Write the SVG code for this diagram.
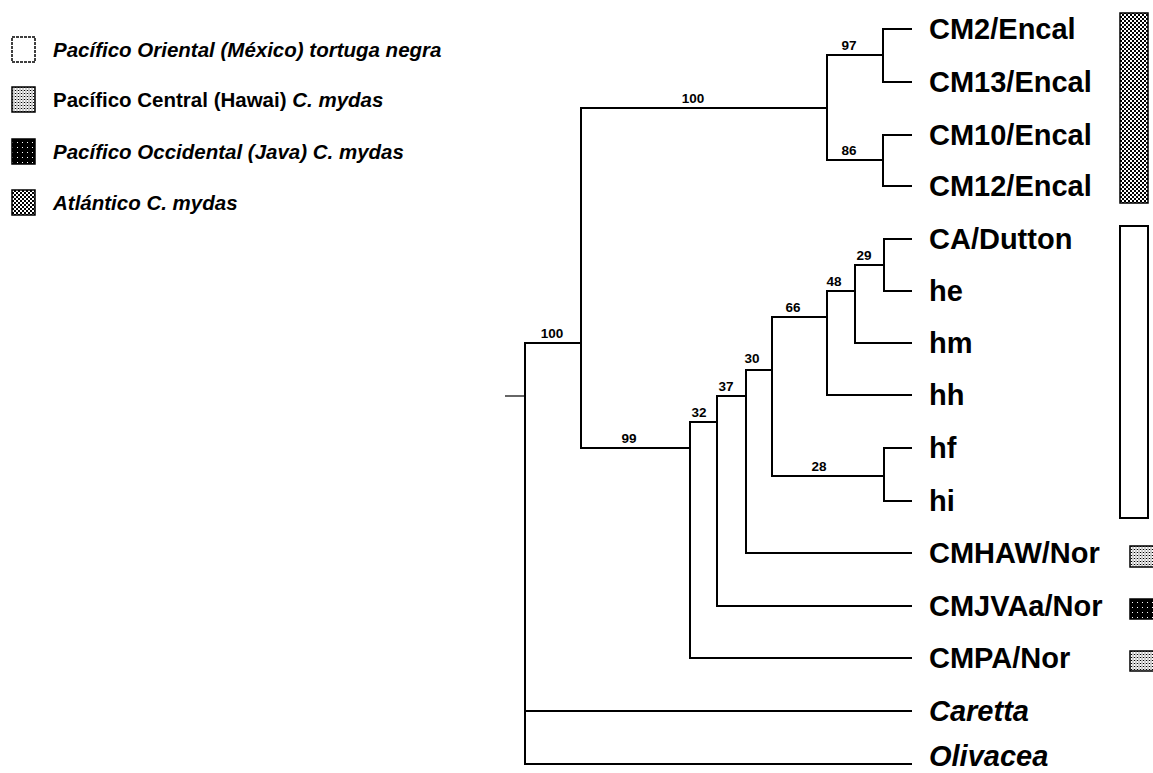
<svg xmlns="http://www.w3.org/2000/svg" width="1153" height="773" viewBox="0 0 1153 773">
<style>
.br{fill:none;stroke:#000;stroke-width:2;stroke-linejoin:miter}
.thin{fill:none;stroke:#000;stroke-width:1.2}
.leaf{font-family:"Liberation Sans",Arial,sans-serif;font-weight:bold;font-size:29px;fill:#000}
.it{font-style:italic}
.sup{font-family:"Liberation Sans",Arial,sans-serif;font-weight:bold;font-size:13.5px;fill:#000;text-anchor:middle}
.leg{font-family:"Liberation Sans",Arial,sans-serif;font-weight:bold;font-size:20.5px;fill:#000}
.bx{stroke:#000;stroke-width:1.5}
</style>
<defs>
<pattern id="checker" width="4" height="4" patternUnits="userSpaceOnUse">
<rect width="4" height="4" fill="#fff"/>
<rect width="2" height="2" fill="#000"/>
<rect x="2" y="2" width="2" height="2" fill="#000"/>
</pattern>
<pattern id="stipple" width="3" height="3" patternUnits="userSpaceOnUse">
<rect width="3" height="3" fill="#fff"/>
<rect width="1" height="1" fill="#000"/>
<rect x="1.5" y="1.5" width="1" height="1" fill="#333"/>
<rect x="1.5" y="0" width="1" height="1" fill="#888"/>
</pattern>
<pattern id="dark" width="5" height="5" patternUnits="userSpaceOnUse">
<rect width="5" height="5" fill="#000"/>
<rect x="2" y="2" width="1" height="1" fill="#fff"/>
</pattern>
</defs>
<rect width="1153" height="773" fill="#fff"/>

<g id="legend">
<g id="leg-oriental">
<rect x="12" y="37" width="23" height="25" fill="#fff" stroke="#000" stroke-width="1.5" stroke-dasharray="3 1"/>
<text class="leg it" x="53" y="57">Pacífico Oriental (México) tortuga negra</text>
</g>
<g id="leg-central">
<rect x="12" y="87" width="23" height="25" fill="url(#stipple)" class="bx"/>
<text class="leg" x="53" y="107">Pacífico Central (Hawai) <tspan class="it">C. mydas</tspan></text>
</g>
<g id="leg-occidental">
<rect x="12" y="139" width="23" height="25" fill="url(#dark)" class="bx"/>
<text class="leg it" x="53" y="159">Pacífico Occidental (Java) C. mydas</text>
</g>
<g id="leg-atlantico">
<rect x="12" y="190" width="23" height="25" fill="url(#checker)" class="bx"/>
<text class="leg it" x="53" y="210">Atlántico C. mydas</text>
</g>
</g>

<g id="connectors">
<path class="br" d="M827 108 H581 V448 H690"/>
<path class="br" d="M883 55 H827 V160 H883"/>
<path class="br" d="M912 29 H883 V82 H912"/>
<path class="br" d="M912 135 H883 V186 H912"/>
<path class="br" d="M884 265 H855 V343 H912"/>
<path class="br" d="M912 239 H884 V291 H912"/>
<path class="br" d="M855 291 H827 V395 H912"/>
<path class="br" d="M827 317 H772 V476 H884"/>
<path class="br" d="M912 448 H884 V501 H912"/>
<path class="br" d="M772 370 H746 V553 H912"/>
<path class="br" d="M746 396 H717 V606 H912"/>
<path class="br" d="M717 422 H690 V658 H912"/>
<path class="br" d="M581 343 H525 V764 H912"/>
<path class="br" d="M525 711 H912"/>
<path class="thin" d="M505 396 H525"/>
</g>

<g id="supports">
<text class="sup" x="693" y="103">100</text>
<text class="sup" x="849" y="50">97</text>
<text class="sup" x="849" y="155">86</text>
<text class="sup" x="864" y="260">29</text>
<text class="sup" x="834" y="286">48</text>
<text class="sup" x="793" y="312">66</text>
<text class="sup" x="752" y="363">30</text>
<text class="sup" x="726" y="391">37</text>
<text class="sup" x="699" y="417">32</text>
<text class="sup" x="819" y="471">28</text>
<text class="sup" x="629" y="443">99</text>
<text class="sup" x="552" y="338">100</text>
</g>

<g id="n-CM2"><text class="leaf" x="929" y="39">CM2/Encal</text></g>
<g id="n-CM13"><text class="leaf" x="929" y="92">CM13/Encal</text></g>
<g id="n-CM10"><text class="leaf" x="929" y="145">CM10/Encal</text></g>
<g id="n-CM12"><text class="leaf" x="929" y="196">CM12/Encal</text></g>
<g id="n-CA"><text class="leaf" x="929" y="249">CA/Dutton</text></g>
<g id="n-he"><text class="leaf" x="929" y="301">he</text></g>
<g id="n-hm"><text class="leaf" x="929" y="353">hm</text></g>
<g id="n-hh"><text class="leaf" x="929" y="405">hh</text></g>
<g id="n-hf"><text class="leaf" x="929" y="458">hf</text></g>
<g id="n-hi"><text class="leaf" x="929" y="511">hi</text></g>
<g id="n-CMHAW"><text class="leaf" x="929" y="563">CMHAW/Nor</text>
<rect x="1130" y="546" width="26" height="21" fill="url(#stipple)" class="bx"/></g>
<g id="n-CMJVAa"><text class="leaf" x="929" y="616">CMJVAa/Nor</text>
<rect x="1130" y="599" width="26" height="20" fill="url(#dark)" class="bx"/></g>
<g id="n-CMPA"><text class="leaf" x="929" y="668">CMPA/Nor</text>
<rect x="1130" y="651" width="26" height="20" fill="url(#stipple)" class="bx"/></g>
<g id="n-Caretta"><text class="leaf it" x="929" y="721">Caretta</text></g>
<g id="n-Olivacea"><text class="leaf it" x="929" y="766">Olivacea</text></g>

<g id="group-atlantico"><rect x="1120" y="13" width="28" height="190" fill="url(#checker)" class="bx"/></g>
<g id="group-oriental"><rect x="1120" y="226" width="28" height="292" fill="#fff" stroke="#000" stroke-width="2"/></g>
</svg>
